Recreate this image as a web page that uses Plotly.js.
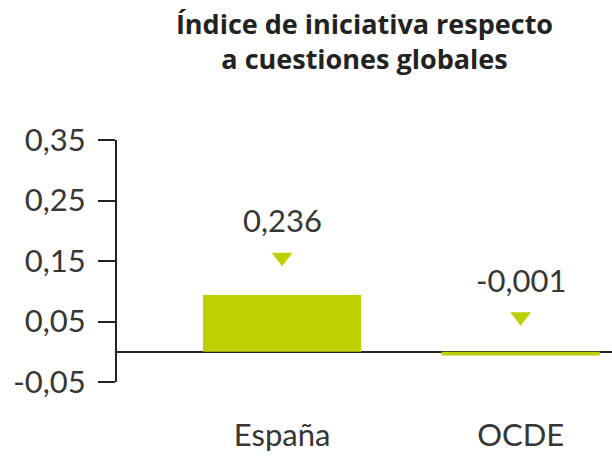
<!DOCTYPE html>
<html>
<head>
<meta charset="utf-8">
<script src="https://cdn.plot.ly/plotly-3.0.1.min.js"></script>
<style>html,body{margin:0;padding:0;background:#fff;}#chart{width:612px;height:457px;}</style>
</head>
<body>
<div id="chart"></div>
<script>
// Data
const categories = ["España", "OCDE"];
const barValues = [0.094, -0.006];
const markerValues = [0.156, 0.058];
const indexValues = [0.236, -0.001];
const yTickVals = [-0.05, 0.05, 0.15, 0.25, 0.35];
const yTickText = ["-0,05", "0,05", "0,15", "0,25", "0,35"];

const green = "#bed000";
const font = "Lato, 'Open Sans', sans-serif";
const titleFont = "'Open Sans', Lato, sans-serif";

const labelText = indexValues.map(v => v.toFixed(3).replace(".", ","));

const traces = [
  {
    type: "bar",
    x: categories,
    y: barValues,
    width: 0.663,
    marker: {color: green},
    hoverinfo: "skip"
  },
  {
    type: "scatter",
    mode: "markers",
    x: categories,
    y: markerValues,
    marker: {symbol: "triangle-down", size: 18, color: green},
    cliponaxis: false,
    hoverinfo: "skip"
  }
];

const annotations = categories.map((c, i) => ({
  x: c,
  y: markerValues[i],
  xref: "x",
  yref: "y",
  text: labelText[i],
  showarrow: false,
  yshift: 37,
  font: {family: font, size: 31, color: "#363636"}
}));

const layout = {
  width: 612,
  height: 457,
  margin: {l: 117, r: 0, t: 140, b: 75},
  paper_bgcolor: "#fff",
  plot_bgcolor: "#fff",
  showlegend: false,
  font: {family: font, color: "#363636"},
  annotations: annotations,
  title: {
    text: "<b>Índice de iniciativa respecto<br>a cuestiones globales</b>",
    font: {family: titleFont, size: 27, color: "#222"},
    x: 0.5,
    xref: "paper",
    xanchor: "center",
    y: 1 - 34 / 457,
    yref: "container",
    yanchor: "middle"
  },
  xaxis: {
    type: "category",
    range: [-0.692, 1.383],
    showline: false,
    showgrid: false,
    zeroline: false,
    ticks: "",
    ticklabelstandoff: 32,
    tickfont: {family: font, size: 31, color: "#363636"},
    fixedrange: true
  },
  yaxis: {
    range: [-0.05, 0.35],
    tickvals: yTickVals,
    ticktext: yTickText,
    showline: true,
    linecolor: "#222",
    linewidth: 2,
    ticks: "outside",
    ticklen: 17,
    tickwidth: 2,
    tickcolor: "#222",
    ticklabelstandoff: 6,
    showgrid: false,
    zeroline: true,
    zerolinecolor: "#222",
    zerolinewidth: 2,
    tickfont: {family: font, size: 31, color: "#363636"},
    fixedrange: true
  }
};

Plotly.newPlot("chart", traces, layout, {displayModeBar: false, staticPlot: true});
</script>
</body>
</html>
